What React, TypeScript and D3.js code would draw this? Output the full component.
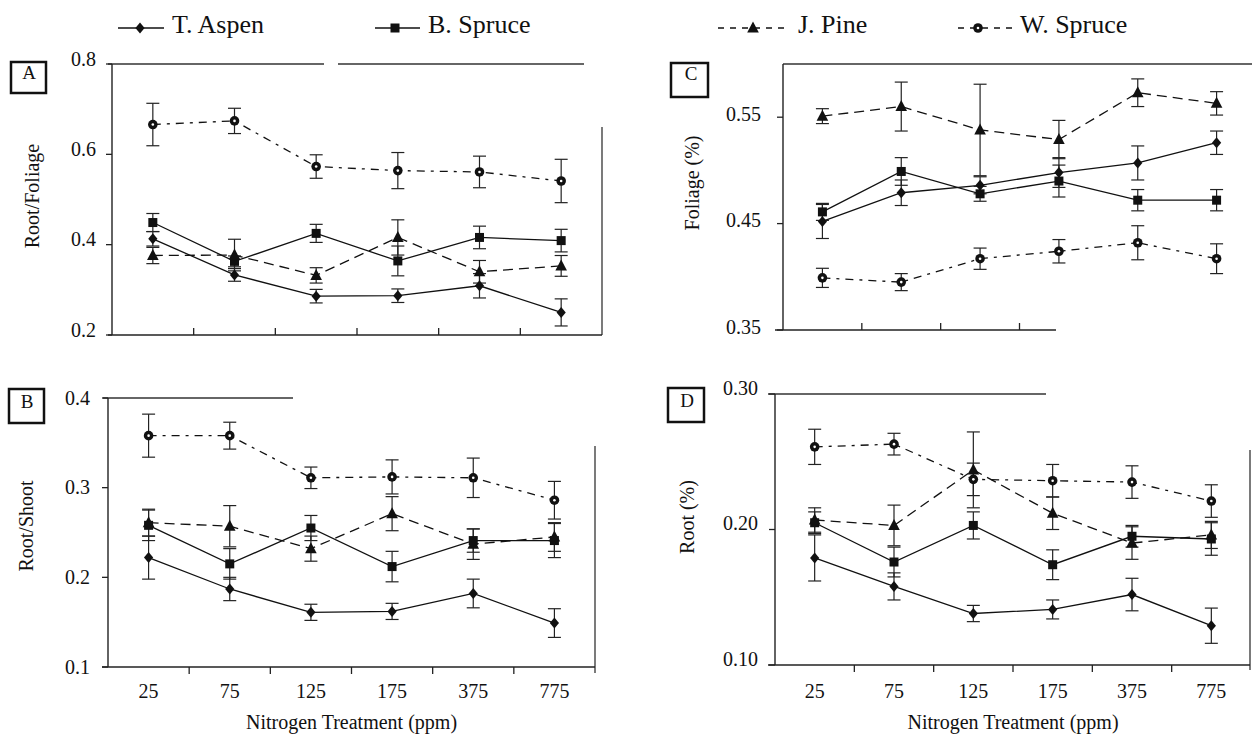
import React from "react";
import * as d3 from "d3";

// ---------- data ----------
const categories = ["25", "75", "125", "175", "375", "775"];
const seriesNames = ["T. Aspen", "B. Spruce", "J. Pine", "W. Spruce"];

// Panel A: Root/Foliage
const aspenA = [0.413, 0.333, 0.286, 0.287, 0.309, 0.25];
const aspenAErr = [0.016, 0.014, 0.015, 0.015, 0.027, 0.03];
const bSpruceA = [0.449, 0.363, 0.425, 0.364, 0.416, 0.409];
const bSpruceAErr = [0.02, 0.012, 0.02, 0.033, 0.025, 0.025];
const jPineA = [0.376, 0.377, 0.332, 0.416, 0.34, 0.353];
const jPineAErr = [0.018, 0.035, 0.017, 0.039, 0.025, 0.023];
const wSpruceA = [0.666, 0.674, 0.573, 0.564, 0.561, 0.541];
const wSpruceAErr = [0.047, 0.028, 0.026, 0.04, 0.035, 0.048];

// Panel B: Root/Shoot
const aspenB = [0.222, 0.187, 0.161, 0.162, 0.182, 0.149];
const aspenBErr = [0.024, 0.013, 0.009, 0.009, 0.016, 0.016];
const bSpruceB = [0.258, 0.215, 0.255, 0.212, 0.241, 0.241];
const bSpruceBErr = [0.017, 0.017, 0.014, 0.017, 0.013, 0.019];
const jPineB = [0.261, 0.257, 0.232, 0.271, 0.237, 0.245];
const jPineBErr = [0.015, 0.023, 0.014, 0.019, 0.017, 0.016];
const wSpruceB = [0.358, 0.358, 0.311, 0.312, 0.311, 0.286];
const wSpruceBErr = [0.024, 0.015, 0.012, 0.019, 0.022, 0.021];

// Panel C: Foliage (%)
const aspenC = [0.452, 0.479, 0.486, 0.498, 0.507, 0.526];
const aspenCErr = [0.016, 0.012, 0.008, 0.014, 0.016, 0.011];
const bSpruceC = [0.461, 0.499, 0.478, 0.49, 0.472, 0.472];
const bSpruceCErr = [0.008, 0.013, 0.007, 0.015, 0.01, 0.01];
const jPineC = [0.551, 0.56, 0.538, 0.529, 0.573, 0.563];
const jPineCErr = [0.007, 0.023, 0.043, 0.018, 0.013, 0.011];
const wSpruceC = [0.399, 0.395, 0.417, 0.424, 0.432, 0.417];
const wSpruceCErr = [0.009, 0.008, 0.01, 0.011, 0.016, 0.014];

// Panel D: Root (%)
const aspenD = [0.179, 0.158, 0.138, 0.141, 0.152, 0.129];
const aspenDErr = [0.017, 0.01, 0.006, 0.007, 0.012, 0.013];
const bSpruceD = [0.205, 0.176, 0.203, 0.174, 0.195, 0.193];
const bSpruceDErr = [0.008, 0.011, 0.01, 0.011, 0.008, 0.012];
const jPineD = [0.207, 0.203, 0.244, 0.212, 0.19, 0.196];
const jPineDErr = [0.009, 0.015, 0.028, 0.012, 0.012, 0.01];
const wSpruceD = [0.261, 0.263, 0.237, 0.236, 0.235, 0.221];
const wSpruceDErr = [0.013, 0.008, 0.012, 0.012, 0.012, 0.012];

const ticksA = [0.2, 0.4, 0.6, 0.8];
const ticksB = [0.1, 0.2, 0.3, 0.4];
const ticksC = [0.35, 0.45, 0.55];
const ticksD = [0.1, 0.2, 0.3];

const xTitle = "Nitrogen Treatment (ppm)";

// ---------- styling ----------
const FONT = "'Liberation Serif', 'Times New Roman', serif";
const INK = "#111";
const markerTypes = ["diamond", "square", "triangle", "circle"];
const dashes = [null, null, "10,6", "8,6,3,6"];

type PanelCfg = {
  letter: string;
  yLabel: string;
  series: number[][];
  errs: number[][];
  domain: [number, number];
  ticks: number[];
  fmt: string;
  x0: number;
  x1: number;
  yBot: number;
  yTop: number;
  tickUp: boolean;
  xTicks: number; // how many band boundaries get ticks
  showXLabels: boolean;
  labelGap: number;
  labelDy: number;
  topSegs: [number, number][];
  right: [number, number] | null;
  rightX: number;
  axisLeftExt: number;
  axisRightEnd: number;
  box: [number, number, number, number];
  letterPos: [number, number];
  yLabelPos: [number, number];
};

const panels: PanelCfg[] = [
  {
    letter: "A",
    yLabel: "Root/Foliage",
    series: [aspenA, bSpruceA, jPineA, wSpruceA],
    errs: [aspenAErr, bSpruceAErr, jPineAErr, wSpruceAErr],
    domain: [0.2, 0.8],
    ticks: ticksA,
    fmt: ".1f",
    x0: 112,
    x1: 602,
    yBot: 335,
    yTop: 64,
    tickUp: true,
    xTicks: 5,
    showXLabels: false,
    labelGap: 16,
    labelDy: 1.5,
    topSegs: [
      [108, 324],
      [338, 584],
    ],
    right: [127, 335],
    rightX: 602,
    axisLeftExt: 108,
    axisRightEnd: 602,
    box: [11, 62, 35, 31],
    letterPos: [29, 79],
    yLabelPos: [39, 196],
  },
  {
    letter: "B",
    yLabel: "Root/Shoot",
    series: [aspenB, bSpruceB, jPineB, wSpruceB],
    errs: [aspenBErr, bSpruceBErr, jPineBErr, wSpruceBErr],
    domain: [0.1, 0.4],
    ticks: ticksB,
    fmt: ".1f",
    x0: 108,
    x1: 595,
    yBot: 667,
    yTop: 398,
    tickUp: false,
    xTicks: 5,
    showXLabels: true,
    labelGap: 18,
    labelDy: 6.5,
    topSegs: [[103, 293]],
    right: [446, 673],
    rightX: 595,
    axisLeftExt: 102,
    axisRightEnd: 595,
    box: [9, 389, 35, 34],
    letterPos: [27, 408],
    yLabelPos: [33, 526],
  },
  {
    letter: "C",
    yLabel: "Foliage (%)",
    series: [aspenC, bSpruceC, jPineC, wSpruceC],
    errs: [aspenCErr, bSpruceCErr, jPineCErr, wSpruceCErr],
    domain: [0.35, 0.6],
    ticks: ticksC,
    fmt: ".2f",
    x0: 783,
    x1: 1256,
    yBot: 330,
    yTop: 64,
    tickUp: true,
    xTicks: 3,
    showXLabels: false,
    labelGap: 22,
    labelDy: 3.5,
    topSegs: [[783, 1252]],
    right: null,
    rightX: 1256,
    axisLeftExt: 775,
    axisRightEnd: 1056,
    box: [671, 63, 37, 34],
    letterPos: [691, 80],
    yLabelPos: [699, 183],
  },
  {
    letter: "D",
    yLabel: "Root (%)",
    series: [aspenD, bSpruceD, jPineD, wSpruceD],
    errs: [aspenDErr, bSpruceDErr, jPineDErr, wSpruceDErr],
    domain: [0.1, 0.3],
    ticks: ticksD,
    fmt: ".2f",
    x0: 775,
    x1: 1251,
    yBot: 665,
    yTop: 394,
    tickUp: false,
    xTicks: 5,
    showXLabels: true,
    labelGap: 17,
    labelDy: 0.5,
    topSegs: [[768, 1046]],
    right: [450, 670],
    rightX: 1250,
    axisLeftExt: 768,
    axisRightEnd: 1250,
    box: [668, 388, 36, 34],
    letterPos: [687, 407],
    yLabelPos: [694, 517],
  },
];

function Marker({ type, x, y }: { type: string; x: number; y: number }) {
  if (type === "diamond") {
    return (
      <path
        d={`M${x},${y - 5.5}L${x + 4.6},${y}L${x},${y + 5.5}L${x - 4.6},${y}Z`}
        fill={INK}
      />
    );
  }
  if (type === "square") {
    return <rect x={x - 4.5} y={y - 4.5} width={9} height={9} fill={INK} />;
  }
  if (type === "triangle") {
    return (
      <path
        d={`M${x},${y - 6.5}L${x + 5.8},${y + 4.5}L${x - 5.8},${y + 4.5}Z`}
        fill={INK}
      />
    );
  }
  return (
    <g>
      <circle cx={x} cy={y} r={4.8} fill={INK} />
      <circle cx={x} cy={y} r={1.3} fill="#fff" />
    </g>
  );
}

function Panel({ p }: { p: PanelCfg }) {
  const x = d3.scaleBand<string>().domain(categories).range([p.x0, p.x1]);
  const y = d3.scaleLinear().domain(p.domain).range([p.yBot, p.yTop]);
  const cx = (c: string) => (x(c) as number) + x.bandwidth() / 2;
  const fmt = d3.format(p.fmt);
  const line = d3
    .line<number>()
    .x((_, i) => cx(categories[i]))
    .y((v) => y(v));
  const tickLen = 7;
  const cap = 6.5;

  return (
    <g>
      {/* frame fragments */}
      {p.topSegs.map(([a, b], i) => (
        <line key={"t" + i} x1={a} x2={b} y1={y(p.domain[1])} y2={y(p.domain[1])} stroke="#333" strokeWidth={1.3} />
      ))}
      {p.right && (
        <line x1={p.rightX} x2={p.rightX} y1={p.right[0]} y2={p.right[1]} stroke="#333" strokeWidth={1.3} />
      )}
      {/* y axis */}
      <line x1={p.x0} x2={p.x0} y1={y(p.domain[1])} y2={y(p.domain[0])} stroke="#222" strokeWidth={1.4} />
      {p.ticks.map((t) => (
        <g key={"yt" + t}>
          <line x1={p.x0 - 6} x2={p.x0} y1={y(t)} y2={y(t)} stroke="#222" strokeWidth={1.3} />
          <text
            x={p.x0 - p.labelGap}
            y={y(t) + p.labelDy}
            textAnchor="end"
            fontFamily={FONT}
            fontSize={20}
            fill={INK}
          >
            {fmt(t)}
          </text>
        </g>
      ))}
      {/* x axis */}
      <line x1={p.axisLeftExt} x2={p.axisRightEnd} y1={y(p.domain[0])} y2={y(p.domain[0])} stroke="#222" strokeWidth={1.5} />
      {categories.slice(1, 1 + p.xTicks).map((c) => (
        <line
          key={"xt" + c}
          x1={x(c) as number}
          x2={x(c) as number}
          y1={y(p.domain[0])}
          y2={y(p.domain[0]) + (p.tickUp ? -tickLen : tickLen)}
          stroke="#222"
          strokeWidth={1.3}
        />
      ))}
      {p.showXLabels &&
        categories.map((c) => (
          <text key={"xl" + c} x={cx(c)} y={698} textAnchor="middle" fontFamily={FONT} fontSize={20} fill={INK}>
            {c}
          </text>
        ))}
      {p.showXLabels && (
        <text x={(p.x0 + p.x1) / 2 - 0} y={729} textAnchor="middle" fontFamily={FONT} fontSize={20} fill={INK}>
          {xTitle}
        </text>
      )}
      {/* y label */}
      <text
        transform={`translate(${p.yLabelPos[0]},${p.yLabelPos[1]}) rotate(-90)`}
        textAnchor="middle"
        fontFamily={FONT}
        fontSize={20}
        fill={INK}
      >
        {p.yLabel}
      </text>
      {/* letter box */}
      <rect x={p.box[0]} y={p.box[1]} width={p.box[2]} height={p.box[3]} fill="none" stroke={INK} strokeWidth={2.5} />
      <text x={p.letterPos[0]} y={p.letterPos[1]} textAnchor="middle" fontFamily={FONT} fontSize={19} fill={INK}>
        {p.letter}
      </text>
      {/* series lines */}
      {p.series.map((s, si) => (
        <path
          key={"l" + si}
          d={line(s) as string}
          fill="none"
          stroke={INK}
          strokeWidth={1.3}
          strokeDasharray={dashes[si] ?? undefined}
        />
      ))}
      {/* error bars */}
      {p.series.map((s, si) =>
        s.map((v, i) => {
          const xc = cx(categories[i]);
          const e = p.errs[si][i];
          const yh = y(v + e);
          const yl = y(v - e);
          return (
            <g key={`e${si}-${i}`} stroke="#222" strokeWidth={1.2}>
              <line x1={xc} x2={xc} y1={yh} y2={yl} />
              <line x1={xc - cap} x2={xc + cap} y1={yh} y2={yh} />
              <line x1={xc - cap} x2={xc + cap} y1={yl} y2={yl} />
            </g>
          );
        })
      )}
      {/* markers */}
      {p.series.map((s, si) =>
        s.map((v, i) => <Marker key={`m${si}-${i}`} type={markerTypes[si]} x={cx(categories[i])} y={y(v)} />)
      )}
    </g>
  );
}

const legendItems = [
  { line: [118, 164], mark: 140, text: 172 },
  { line: [375, 420], mark: 395, text: 428 },
  { line: [718, 790], mark: 753, text: 798 },
  { line: [958, 1016], mark: 978, text: 1020 },
];

export default function App() {
  return (
    <svg
      width={1252}
      height={740}
      viewBox="0 0 1252 740"
      style={{ position: "absolute", left: 0, top: 0, display: "block", background: "#fff" }}
    >
      <rect width={1252} height={740} fill="#fff" />
      {/* legend */}
      {seriesNames.map((name, i) => {
        const L = legendItems[i];
        return (
          <g key={name}>
            <line
              x1={L.line[0]}
              x2={L.line[1]}
              y1={28}
              y2={28}
              stroke={INK}
              strokeWidth={1.3}
              strokeDasharray={i >= 2 ? "6,6" : undefined}
            />
            <Marker type={markerTypes[i]} x={L.mark} y={28} />
            <text x={L.text} y={33} fontFamily={FONT} fontSize={26} fill={INK}>
              {name}
            </text>
          </g>
        );
      })}
      {panels.map((p) => (
        <Panel key={p.letter} p={p} />
      ))}
    </svg>
  );
}
